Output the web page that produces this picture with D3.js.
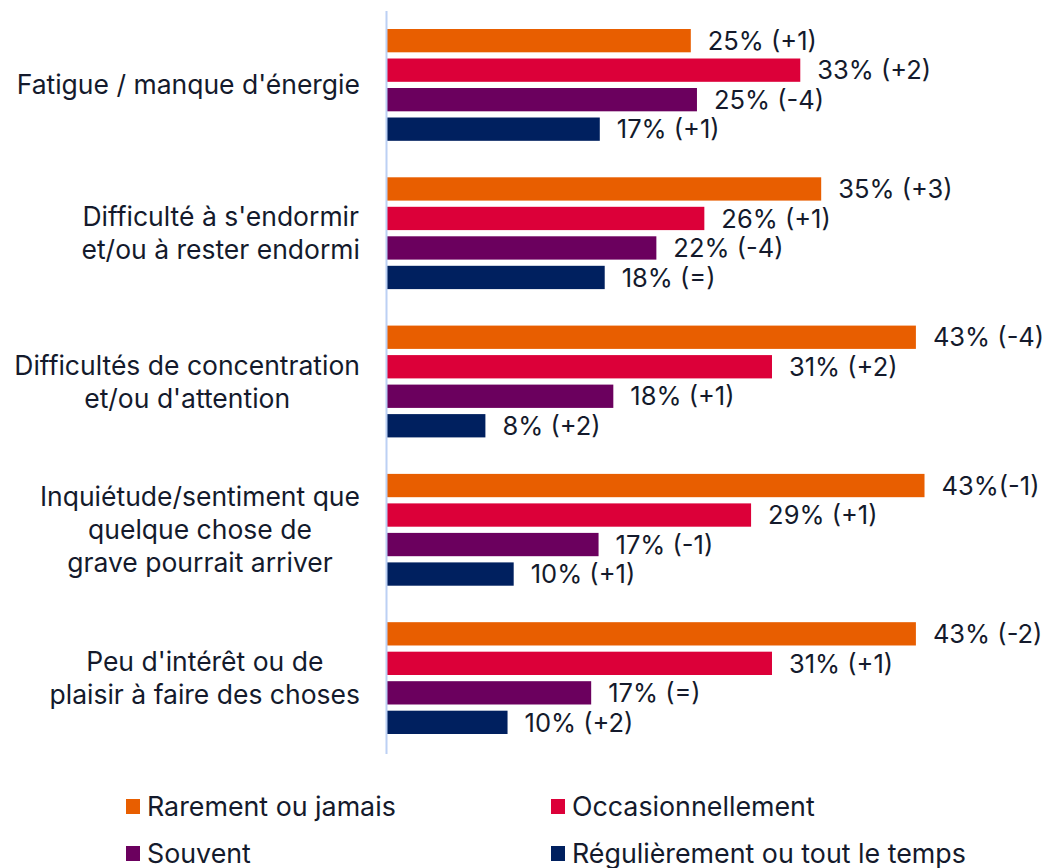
<!DOCTYPE html>
<html>
<head>
<meta charset="utf-8">
<script src="https://cdn.jsdelivr.net/npm/d3@7"></script>
<style>
body { margin: 0; background: #fff; }
text { font-family: Inter, "Noto Sans", sans-serif; fill: #141a2c; }
</style>
</head>
<body>
<svg width="1043" height="868"></svg>
<script>
var categories = [
	"Fatigue / manque d'énergie",
	"Difficulté à s'endormir\net/ou à rester endormi",
	"Difficultés de concentration\net/ou d'attention",
	"Inquiétude/sentiment que\nquelque chose de\ngrave pourrait arriver",
	"Peu d'intérêt ou de\nplaisir à faire des choses"
];

var series = ["Rarement ou jamais", "Occasionnellement", "Souvent", "Régulièrement ou tout le temps"];
var colors = ["#e85e00", "#dc0039", "#6b005e", "#00205f"];

// bar values, labels as printed
var rarement = [24.7, 35.3, 43.0, 43.7, 43.0];
var occasionnellement = [33.6, 25.8, 31.3, 29.6, 31.3];
var souvent = [25.2, 21.9, 18.4, 17.2, 16.6];
var regulierement = [17.3, 17.7, 8.0, 10.3, 9.8];

var rarementLabels = ["25% (+1)", "35% (+3)", "43% (-4)", "43%(-1)", "43% (-2)"];
var occasionnellementLabels = ["33% (+2)", "26% (+1)", "31% (+2)", "29% (+1)", "31% (+1)"];
var souventLabels = ["25% (-4)", "22% (-4)", "18% (+1)", "17% (-1)", "17% (=)"];
var regulierementLabels = ["17% (+1)", "18% (=)", "8% (+2)", "10% (+1)", "10% (+2)"];

var allValues = [rarement, occasionnellement, souvent, regulierement];
var allLabels = [rarementLabels, occasionnellementLabels, souventLabels, regulierementLabels];

var svg = d3.select("svg"),
	catSize = 26.5,
	legSize = 26.8,
	valSize = 25.5,
	axisX = 387;

var x = d3.scaleLinear()
	.domain([0, 100])
	.range([axisX, axisX + 1230]);

var y0 = d3.scaleBand()
	.domain(categories)
	.range([29, 734])
	.paddingInner(0.246);

var y1 = d3.scaleBand()
	.domain(series)
	.range([0, y0.bandwidth()])
	.paddingInner(0.21);

var color = d3.scaleOrdinal()
	.domain(series)
	.range(colors);

var rows = [];
categories.forEach(function(c, i) {
	series.forEach(function(s, j) {
		rows.push({cat: c, ser: s, value: allValues[j][i], label: allLabels[j][i]});
	});
});

var g = svg.append("g");

g.selectAll("rect.bar")
	.data(rows)
	.enter().append("rect")
	.attr("class", "bar")
	.attr("x", x(0))
	.attr("y", function(d) { return y0(d.cat) + y1(d.ser); })
	.attr("width", function(d) { return x(d.value) - x(0); })
	.attr("height", y1.bandwidth())
	.attr("fill", function(d) { return color(d.ser); });

g.selectAll("text.val")
	.data(rows)
	.enter().append("text")
	.attr("class", "val")
	.attr("x", function(d) { return x(d.value) + 17; })
	.attr("y", function(d) { return y0(d.cat) + y1(d.ser) + y1.bandwidth() / 2; })
	.attr("dy", "0.36em")
	.style("font-size", valSize + "px")
	.text(function(d) { return d.label; });

// vertical axis line
svg.append("line")
	.attr("x1", axisX - 0.5).attr("x2", axisX - 0.5)
	.attr("y1", 11).attr("y2", 754)
	.attr("stroke", "#bcd0f4")
	.attr("stroke-width", 2);

// category labels: block right-aligned, lines centred inside the block
var lineH = 33, labelRight = 360;
var cat = svg.append("g").selectAll("text.cat")
	.data(categories)
	.enter().append("text")
	.attr("class", "cat")
	.style("font-size", catSize + "px")
	.attr("text-anchor", "middle");

cat.each(function(c) {
	var t = d3.select(this),
		lines = c.split("\n"),
		mid = y0(c) + y0.bandwidth() / 2,
		top = mid - (lines.length - 1) * lineH / 2;
	lines.forEach(function(l, k) {
		t.append("tspan")
			.attr("y", top + k * lineH)
			.attr("dy", "0.36em")
			.text(l);
	});
	var w = d3.max(t.selectAll("tspan").nodes(), function(n) { return n.getComputedTextLength(); });
	t.selectAll("tspan").attr("x", labelRight - w / 2);
});

// legend
var legendX = [126, 551], legendY = [799, 846];
var leg = svg.append("g").selectAll("g")
	.data(series)
	.enter().append("g")
	.attr("transform", function(d, i) { return "translate(" + legendX[i % 2] + "," + legendY[Math.floor(i / 2)] + ")"; });

leg.append("rect")
	.attr("width", 14)
	.attr("height", 15)
	.attr("fill", function(d) { return color(d); });

leg.append("text")
	.attr("x", 21)
	.attr("y", 7.5)
	.attr("dy", "0.36em")
	.style("font-size", legSize + "px")
	.text(function(d) { return d; });
</script>
</body>
</html>
